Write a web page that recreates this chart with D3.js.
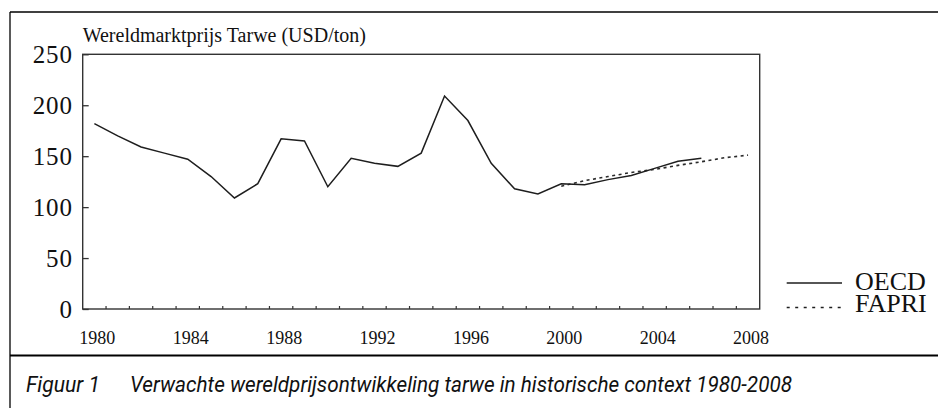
<!DOCTYPE html>
<html>
<head>
<meta charset="utf-8">
<script src="https://cdn.jsdelivr.net/npm/d3@7"></script>
<style>
  body { margin: 0; background: #fff; }
  svg { display: block; }
  .serif { font-family: "Liberation Serif", "Times New Roman", serif; fill: #111; }
  .caption { font-family: Roboto, "Noto Sans", sans-serif; font-style: italic; fill: #111; }
</style>
</head>
<body>
<svg width="938" height="408"></svg>
<script>
// categories (x axis)
var years = [1980, 1981, 1982, 1983, 1984, 1985, 1986, 1987, 1988, 1989,
             1990, 1991, 1992, 1993, 1994, 1995, 1996, 1997, 1998, 1999,
             2000, 2001, 2002, 2003, 2004, 2005, 2006, 2007, 2008]
var yearLabels = [1980, 1984, 1988, 1992, 1996, 2000, 2004, 2008]
var yTicks = [0, 50, 100, 150, 200, 250]

// OECD world price wheat, 1980-2006
var oecdYears = [1980, 1981, 1982, 1983, 1984, 1985, 1986, 1987, 1988, 1989,
                 1990, 1991, 1992, 1993, 1994, 1995, 1996, 1997, 1998, 1999,
                 2000, 2001, 2002, 2003, 2004, 2005, 2006]
var oecd = [182, 170, 159, 153, 147, 130, 109, 123, 167, 165,
            120, 148, 143, 140, 153, 209, 185, 143, 118, 113,
            123, 122, 127, 131, 138, 145, 148]

// FAPRI projection, 2000-2008
var fapriYears = [2000, 2001, 2002, 2003, 2004, 2005, 2006, 2007, 2008]
var fapri = [120.5, 126, 130, 134, 137, 141, 144.5, 148.5, 151]

var seriesNames = ['OECD', 'FAPRI']

var svg = d3.select('svg')

var plotLeft = 82.7, plotRight = 759.7, plotTop = 54.3, plotBottom = 309

var x = d3.scaleBand().domain(years).range([plotLeft, plotRight])
var y = d3.scaleLinear().domain([0, 250]).range([plotBottom, plotTop])

// outer figure frame
var frame = svg.append('g').attr('stroke', '#000').attr('fill', 'none')
frame.append('line').attr('x1', 10).attr('x2', 938).attr('y1', 12).attr('y2', 12).attr('stroke-width', 1.3)
frame.append('line').attr('x1', 10).attr('x2', 10).attr('y1', 12).attr('y2', 408).attr('stroke-width', 1.3)
frame.append('line').attr('x1', 10).attr('x2', 938).attr('y1', 355.5).attr('y2', 355.5).attr('stroke-width', 2)

// plot box
svg.append('rect')
  .attr('x', plotLeft).attr('y', plotTop)
  .attr('width', plotRight - plotLeft).attr('height', plotBottom - plotTop)
  .attr('fill', 'none').attr('stroke', '#333').attr('stroke-width', 1.4)

// y axis
var yAxis = svg.append('g')
  .attr('transform', 'translate(' + plotLeft + ',0)')
  .call(d3.axisLeft(y).tickValues(yTicks).tickSize(-6).tickPadding(10))
yAxis.select('.domain').remove()
yAxis.selectAll('.tick line').attr('stroke', '#333').attr('stroke-width', 1.3)
yAxis.selectAll('.tick text')
  .attr('class', 'serif')
  .style('font-size', '25px')
  .attr('letter-spacing', '0.8px')
  .attr('dy', '0.33em')

// x axis: inward ticks at category boundaries
svg.append('g').selectAll('line')
  .data(years.slice(1))
  .enter().append('line')
    .attr('x1', function (d) { return x(d) })
    .attr('x2', function (d) { return x(d) })
    .attr('y1', plotBottom)
    .attr('y2', plotBottom - 3)
    .attr('stroke', '#333')
    .attr('stroke-width', 1.2)

var xAxis = svg.append('g')
  .attr('transform', 'translate(3,' + plotBottom + ')')
  .call(d3.axisBottom(x).tickValues(yearLabels).tickSize(0).tickPadding(35))
xAxis.select('.domain').remove()
xAxis.selectAll('.tick text')
  .attr('class', 'serif')
  .style('font-size', '18px')
  .attr('dy', '0')

// title
svg.append('text')
  .attr('class', 'serif')
  .attr('x', plotLeft).attr('y', 42)
  .style('font-size', '20px')
  .text('Wereldmarktprijs Tarwe (USD/ton)')

var line = d3.line()
  .x(function (d) { return x(d[0]) + x.bandwidth() / 2 })
  .y(function (d) { return y(d[1]) })

svg.append('path')
  .datum(d3.zip(fapriYears, fapri))
  .attr('d', line)
  .attr('fill', 'none')
  .attr('stroke', '#2a2a2a')
  .attr('stroke-width', 1.6)
  .attr('stroke-dasharray', '3,3.5')

svg.append('path')
  .datum(d3.zip(oecdYears, oecd))
  .attr('d', line)
  .attr('fill', 'none')
  .attr('stroke', '#1e1e1e')
  .attr('stroke-width', 1.5)
  .attr('stroke-linejoin', 'miter')

// legend
var legend = svg.append('g')
legend.selectAll('line')
  .data(seriesNames)
  .enter().append('line')
    .attr('x1', 786.7).attr('x2', 842)
    .attr('y1', function (d, i) { return 283 + i * 24.5 })
    .attr('y2', function (d, i) { return 283 + i * 24.5 })
    .attr('stroke', '#1e1e1e')
    .attr('stroke-width', 1.3)
    .attr('stroke-dasharray', function (d, i) { return i ? '3,5.5' : null })
legend.selectAll('text')
  .data(seriesNames)
  .enter().append('text')
    .attr('class', 'serif')
    .attr('x', 855)
    .attr('y', function (d, i) { return 289.5 + i * 22.3 })
    .style('font-size', '26px')
    .text(function (d) { return d })

// caption
svg.append('text')
  .attr('class', 'caption')
  .attr('x', 26).attr('y', 391.5)
  .style('font-size', '22px')
  .attr('textLength', 74)
  .attr('lengthAdjust', 'spacingAndGlyphs')
  .text('Figuur 1')
svg.append('text')
  .attr('class', 'caption')
  .attr('x', 130).attr('y', 391.5)
  .style('font-size', '22px')
  .attr('textLength', 662)
  .attr('lengthAdjust', 'spacingAndGlyphs')
  .text('Verwachte wereldprijsontwikkeling tarwe in historische context 1980-2008')
</script>
</body>
</html>
